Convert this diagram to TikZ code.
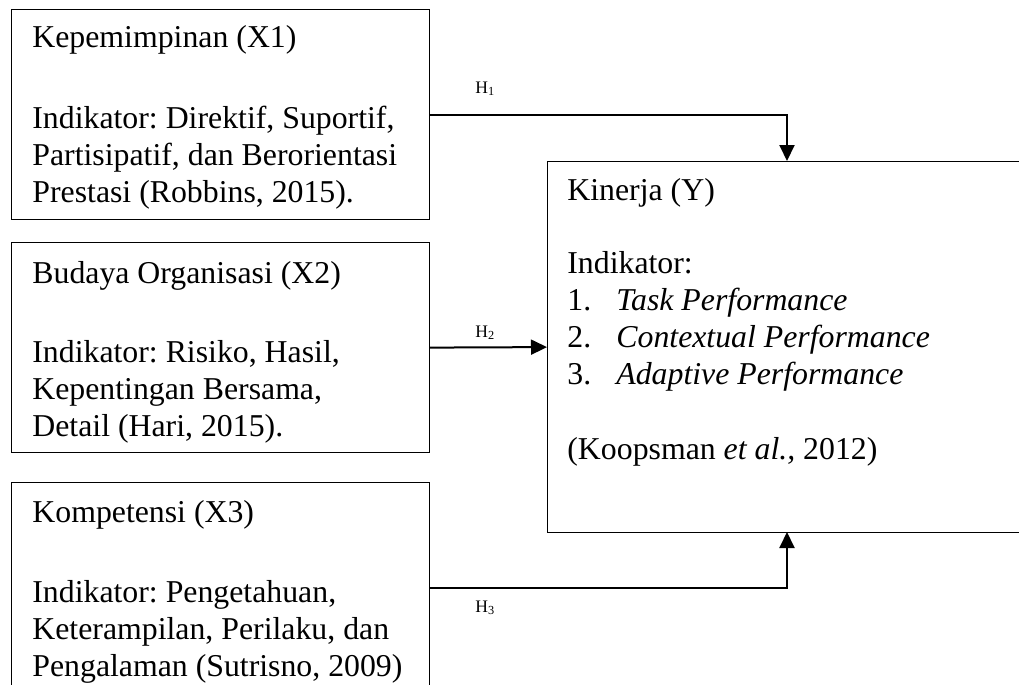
\documentclass[tikz,border=0pt]{standalone}
\usepackage{fontspec}
\setmainfont{Liberation Serif}
\usetikzlibrary{arrows.meta}
\frenchspacing
\tikzset{
  box/.style={draw,line width=0.6pt,rectangle,anchor=north west,inner sep=0pt},
  txt/.style={anchor=north west,align=left,inner sep=0pt,font=\fontsize{15.9}{18.5}\selectfont},
  hlab/.style={anchor=base west,inner sep=0pt,font=\fontsize{8.8}{9}\selectfont},
  arr/.style={line width=1pt,-{Triangle[length=8pt,width=7.5pt]}}
}
\newcommand{\itm}[1]{\makebox[24.5pt][l]{#1}}

\begin{document}
\begin{tikzpicture}[x=0.5pt,y=-0.5pt]
\useasboundingbox (0,0) rectangle (1019,685);
\clip (0,0) rectangle (1019,685);
\node[box,minimum width=209pt,minimum height=105pt] (x1) at (11,9) {};
\node[box,minimum width=209pt,minimum height=105pt] (x2) at (11,242) {};
\node[box,minimum width=209pt,minimum height=105pt] (x3) at (11,482) {};
\node[box,minimum width=247pt,minimum height=185.5pt] (y) at (547,161) {};
\node[txt] (x1t) at (32,25) {Kepemimpinan (X1)\\[22pt]
Indikator: Direktif, Suportif,\\
Partisipatif, dan Berorientasi\\
Prestasi (Robbins, 2015).};
\node[txt] (x2t) at (32,261) {Budaya Organisasi (X2)\\[21pt]
Indikator: Risiko, Hasil,\\
Kepentingan Bersama,\\
Detail (Hari, 2015).};
\node[txt] (x3t) at (32,500) {Kompetensi (X3)\\[21.5pt]
Indikator: Pengetahuan,\\
Keterampilan, Perilaku, dan\\
Pengalaman (Sutrisno, 2009)};
\node[txt] (yt) at (567,178) {Kinerja (Y)\\[18pt]
Indikator:\\
\itm{1.}\textit{Task Performance}\\
\itm{2.}\textit{Contextual Performance}\\
\itm{3.}\textit{Adaptive Performance}\\[19pt]
(Koopsman \textit{et al.,} 2012)};
\coordinate (ytop) at (787,161);
\coordinate (ybot) at (787,532);
\draw[arr] (x1.east) -| (ytop);
\draw[arr] (x2.east) -- (y.west);
\draw[arr] (x3.east) -| (ybot);
\node[hlab] (h1) at (475,93) {H\textsubscript{1}};
\node[hlab] (h2) at (475,337) {H\textsubscript{2}};
\node[hlab] (h3) at (475,612) {H\textsubscript{3}};
\end{tikzpicture}
\end{document}
